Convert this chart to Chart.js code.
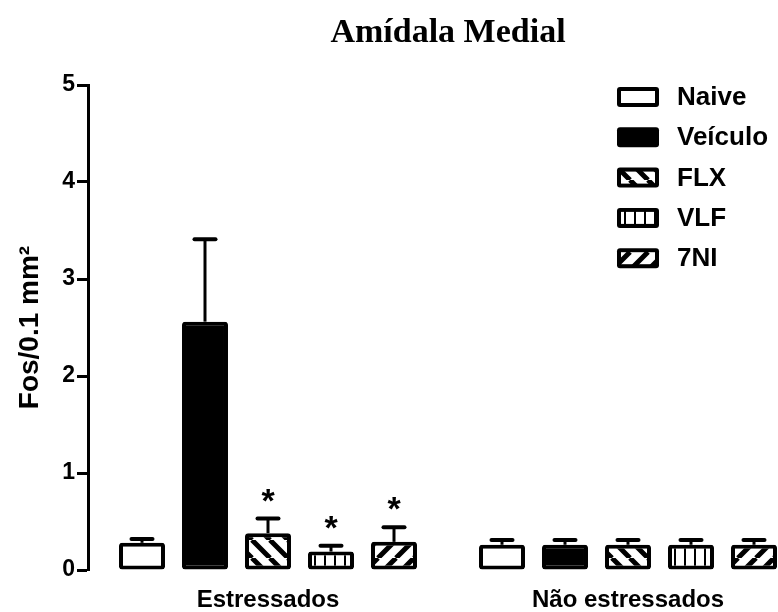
<!DOCTYPE html>
<html>
<head>
<meta charset="utf-8">
<script src="https://cdn.jsdelivr.net/npm/chart.js@4.4.1/dist/chart.umd.min.js"></script>
<style>
  body { margin: 0; overflow: hidden; background: #fff; }
  #wrap { width: 882px; height: 612px; }
</style>
</head>
<body>
<div id="wrap"><canvas id="chart" width="882" height="612"></canvas></div>
<script>
// categories and series
const groups = ['Estressados', 'Não estressados'];
const seriesNames = ['Naive', 'Veículo', 'FLX', 'VLF', '7NI'];

// mean Fos/0.1 mm2 per group
const naiveMean   = [0.28, 0.26];
const veiculoMean = [2.56, 0.26];
const flxMean     = [0.38, 0.26];
const vlfMean     = [0.19, 0.26];
const sevenNiMean = [0.29, 0.26];

// error (upper whisker only)
const naiveErr   = [0.04, 0.05];
const veiculoErr = [0.85, 0.05];
const flxErr     = [0.15, 0.05];
const vlfErr     = [0.06, 0.05];
const sevenNiErr = [0.15, 0.05];

// significance stars
const naiveStar   = [false, false];
const veiculoStar = [false, false];
const flxStar     = [true, false];
const vlfStar     = [true, false];
const sevenNiStar = [true, false];

const yTicks = [0, 1, 2, 3, 4, 5];

const FONT = '"Liberation Sans", Arial, sans-serif';

function makePattern(kind) {
    const tile = document.createElement('canvas');
    const c = tile.getContext('2d');
    if (kind === 'vert') {
        tile.width = 10; tile.height = 4;
        c.fillStyle = '#fff'; c.fillRect(0, 0, 10, 4);
        c.fillStyle = '#000'; c.fillRect(4, 0, 2, 4);
    } else {
        const s = 18;
        tile.width = s; tile.height = s;
        c.fillStyle = '#fff'; c.fillRect(0, 0, s, s);
        c.strokeStyle = '#000'; c.lineWidth = 5;
        c.beginPath();
        for (let k = -1; k <= 1; k++) {
            if (kind === 'back') { c.moveTo(k * s, 0); c.lineTo(k * s + s, s); }
            else { c.moveTo(k * s, s); c.lineTo(k * s + s, 0); }
        }
        c.stroke();
    }
    return c.createPattern(tile, 'repeat');
}

const fills = ['#ffffff', '#000000', makePattern('back'), makePattern('vert'), makePattern('fwd')];
const means = [naiveMean, veiculoMean, flxMean, vlfMean, sevenNiMean];
const errs = [naiveErr, veiculoErr, flxErr, vlfErr, sevenNiErr];
const stars = [naiveStar, veiculoStar, flxStar, vlfStar, sevenNiStar];

const datasets = seriesNames.map((name, i) => ({
    label: name,
    data: means[i],
    err: errs[i],
    star: stars[i],
    backgroundColor: fills[i],
    borderColor: '#000',
    borderWidth: 4,
    borderSkipped: false,
    borderRadius: 3,
    categoryPercentage: 0.875,
    barPercentage: 0.73
}));

const errorBars = {
    id: 'errorBars',
    afterDatasetsDraw(chart) {
        const ctx = chart.ctx;
        const y = chart.scales.y;
        ctx.save();
        ctx.strokeStyle = '#000';
        ctx.fillStyle = '#000';
        chart.data.datasets.forEach((ds, d) => {
            chart.getDatasetMeta(d).data.forEach((bar, i) => {
                const top = y.getPixelForValue(ds.data[i] + ds.err[i]);
                ctx.lineCap = 'butt';
                ctx.lineWidth = 3;
                ctx.beginPath();
                ctx.moveTo(bar.x, bar.y);
                ctx.lineTo(bar.x, top);
                ctx.stroke();
                ctx.lineCap = 'round';
                ctx.lineWidth = 4;
                ctx.beginPath();
                ctx.moveTo(bar.x - 10.5, top);
                ctx.lineTo(bar.x + 10.5, top);
                ctx.stroke();
                if (ds.star[i]) {
                    ctx.font = 'bold 34px ' + FONT;
                    ctx.textAlign = 'center';
                    ctx.textBaseline = 'alphabetic';
                    ctx.fillText('*', bar.x, top - 7);
                }
            });
        });
        ctx.restore();
    }
};

const boxLegend = {
    id: 'boxLegend',
    afterDraw(chart) {
        const ctx = chart.ctx;
        ctx.save();
        chart.data.datasets.forEach((ds, i) => {
            const cy = 97 + i * 40.3;
            const x = 617, w = 42, h = 20;
            ctx.fillStyle = '#000';
            ctx.beginPath();
            ctx.roundRect(x, cy - h / 2, w, h, 3);
            ctx.fill();
            ctx.fillStyle = ds.backgroundColor;
            ctx.fillRect(x + 4, cy - h / 2 + 4, w - 8, h - 8);
            ctx.fillStyle = '#000';
            ctx.font = 'bold 26px ' + FONT;
            ctx.textAlign = 'left';
            ctx.textBaseline = 'middle';
            ctx.fillText(ds.label, 677, cy + 1);
        });
        ctx.restore();
    }
};

new Chart(document.getElementById('chart'), {
    type: 'bar',
    data: { labels: groups, datasets: datasets },
    options: {
        responsive: false,
        devicePixelRatio: 1,
        animation: false,
        layout: { padding: { left: 0, right: 74, top: 0, bottom: 0 } },
        plugins: {
            legend: { display: false },
            tooltip: { enabled: false },
            title: {
                display: true,
                fullSize: false,
                text: 'Amídala Medial',
                color: '#000',
                font: { family: '"Liberation Serif", "Times New Roman", serif', size: 34, weight: 'bold', lineHeight: 1.2 },
                padding: { top: 13, bottom: 31.2 }
            }
        },
        scales: {
            x: {
                afterFit(scale) { scale.height = 42; },
                grid: { display: false, drawTicks: false },
                border: { display: false },
                ticks: { color: '#000', padding: 18, maxRotation: 0, font: { family: FONT, size: 24, weight: 'bold', lineHeight: 1 } }
            },
            y: {
                min: 0,
                max: 5,
                afterFit(scale) { scale.width = 88; },
                afterBuildTicks(scale) { scale.ticks = yTicks.map(v => ({ value: v })); },
                grid: { drawOnChartArea: false, drawTicks: true, tickLength: 11, tickWidth: 3, tickColor: '#000' },
                border: { display: true, color: '#000', width: 3 },
                ticks: { color: '#000', padding: 2, font: { family: FONT, size: 23, weight: 'bold' } },
                title: {
                    display: true,
                    text: 'Fos/0.1 mm²',
                    color: '#000',
                    padding: { top: 13, bottom: 0 },
                    font: { family: FONT, size: 28, weight: 'bold', lineHeight: 1.2 }
                }
            }
        }
    },
    plugins: [errorBars, boxLegend]
});
</script>
</body>
</html>
